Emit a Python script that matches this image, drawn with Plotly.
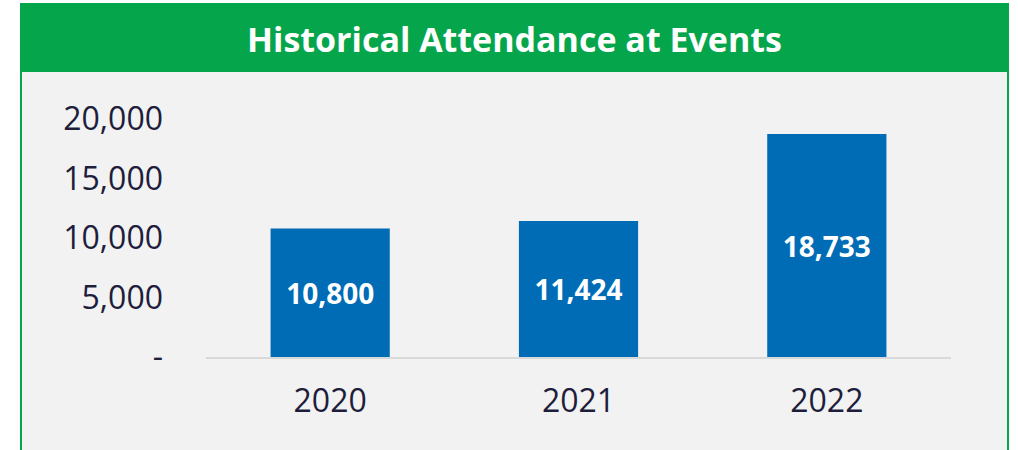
import plotly.graph_objects as go

years = ["2020", "2021", "2022"]
attendance = [10800, 11424, 18733]
label_text = ["10,800", "11,424", "18,733"]
y_tick_vals = [0, 5000, 10000, 15000, 20000]
y_tick_text = ["-", "5,000", "10,000", "15,000", "20,000"]
title = "Historical Attendance at Events"

W, H = 1018, 450
GREEN = "#05a64b"
PANEL = "#f2f2f2"
BLUE = "#006cb5"
NAVY = "#1e1e3c"

fig = go.Figure(
    go.Bar(
        x=years,
        y=attendance,
        text=label_text,
        textposition="inside",
        insidetextanchor="middle",
        textfont=dict(family="Open Sans", size=28, color="white", weight="bold"),
        marker=dict(color=BLUE, line=dict(width=0)),
        width=0.48,
        hoverinfo="skip",
    )
)

fig.update_layout(
    template="none",
    width=W,
    height=H,
    autosize=False,
    margin=dict(l=0, r=0, t=0, b=0, pad=0),
    paper_bgcolor="white",
    plot_bgcolor="rgba(0,0,0,0)",
    showlegend=False,
    xaxis=dict(
        type="category",
        domain=[206 / W, 951 / W],
        range=[-0.5, 2.5],
        automargin=False,
        showgrid=False,
        showline=True,
        linecolor="#d9d9d9",
        linewidth=2,
        ticks="",
        ticklabelstandoff=15,
        tickfont=dict(family="Open Sans", size=32, color=NAVY),
    ),
    yaxis=dict(
        domain=[(H - 357) / H, (H - 119) / H],
        range=[0, 20000],
        automargin=False,
        showgrid=False,
        zeroline=False,
        showline=False,
        tickmode="array",
        tickvals=y_tick_vals,
        ticktext=y_tick_text,
        ticks="",
        ticklabelstandoff=42,
        tickfont=dict(family="Open Sans", size=32, color=NAVY),
    ),
    shapes=[
        dict(type="rect", xref="paper", yref="paper",
             x0=20 / W, x1=1009 / W, y0=-0.02, y1=(H - 3) / H,
             fillcolor=GREEN, line=dict(width=0), layer="below"),
        dict(type="rect", xref="paper", yref="paper",
             x0=22 / W, x1=1007 / W, y0=-0.02, y1=(H - 72) / H,
             fillcolor=PANEL, line=dict(width=0), layer="below"),
    ],
    annotations=[
        dict(text=title, xref="paper", yref="paper",
             x=514.5 / W, y=(H - 39) / H, xanchor="center", yanchor="middle",
             showarrow=False,
             font=dict(family="Open Sans", size=34, color="white", weight="bold")),
    ],
)

fig.write_html(
    "out.html",
    config={"displayModeBar": False},
    post_script="document.body.style.margin='0';document.body.style.overflow='hidden';",
)
